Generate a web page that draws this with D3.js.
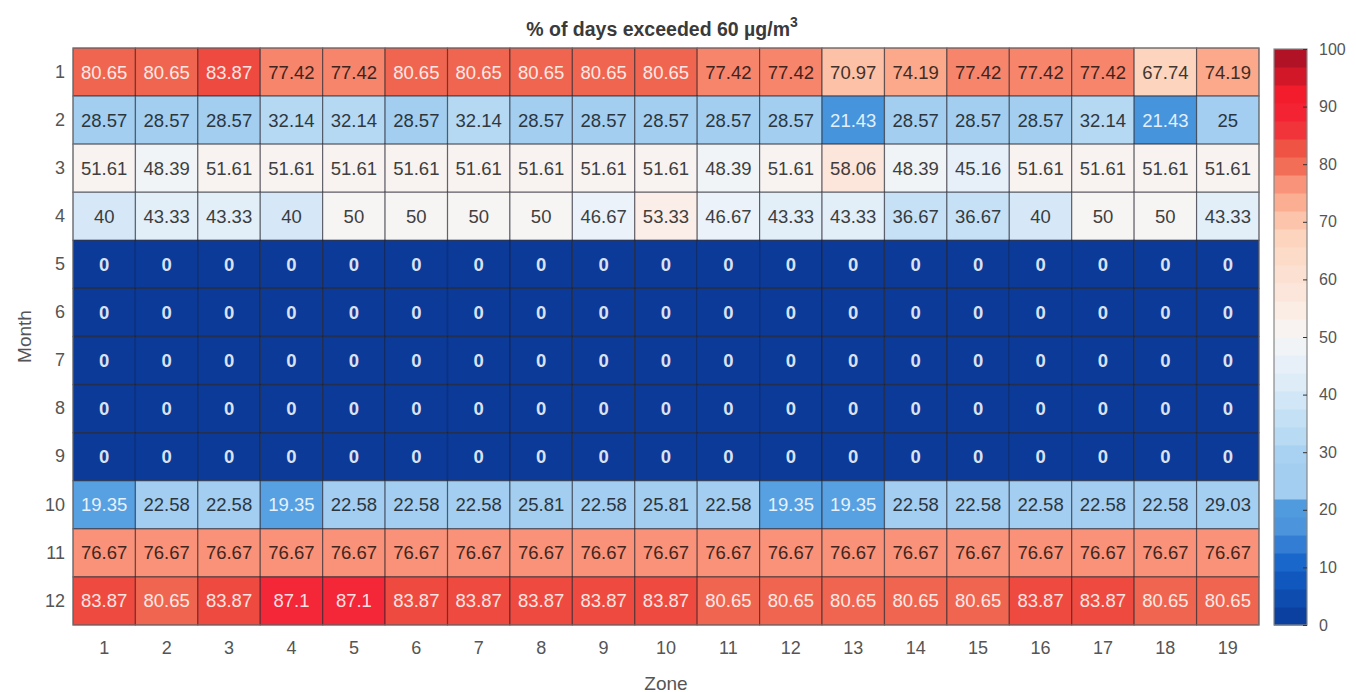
<!DOCTYPE html>
<html><head><meta charset="utf-8">
<script src="https://cdn.jsdelivr.net/npm/d3@7/dist/d3.min.js"></script>
<style>
html,body{margin:0;padding:0;background:#fff;}
svg{display:block;font-family:"Liberation Sans",Arial,Helvetica,sans-serif;}
</style></head><body>
<svg id="c" width="1356" height="692"></svg>
<script>
const zones = d3.range(1, 20).map(String);
const months = d3.range(1, 13).map(String);
const jan = [80.65,80.65,83.87,77.42,77.42,80.65,80.65,80.65,80.65,80.65,77.42,77.42,70.97,74.19,77.42,77.42,77.42,67.74,74.19];
const feb = [28.57,28.57,28.57,32.14,32.14,28.57,32.14,28.57,28.57,28.57,28.57,28.57,21.43,28.57,28.57,28.57,32.14,21.43,25];
const mar = [51.61,48.39,51.61,51.61,51.61,51.61,51.61,51.61,51.61,51.61,48.39,51.61,58.06,48.39,45.16,51.61,51.61,51.61,51.61];
const apr = [40,43.33,43.33,40,50,50,50,50,46.67,53.33,46.67,43.33,43.33,36.67,36.67,40,50,50,43.33];
const may = [0,0,0,0,0,0,0,0,0,0,0,0,0,0,0,0,0,0,0];
const jun = [0,0,0,0,0,0,0,0,0,0,0,0,0,0,0,0,0,0,0];
const jul = [0,0,0,0,0,0,0,0,0,0,0,0,0,0,0,0,0,0,0];
const aug = [0,0,0,0,0,0,0,0,0,0,0,0,0,0,0,0,0,0,0];
const sep = [0,0,0,0,0,0,0,0,0,0,0,0,0,0,0,0,0,0,0];
const oct = [19.35,22.58,22.58,19.35,22.58,22.58,22.58,25.81,22.58,25.81,22.58,19.35,19.35,22.58,22.58,22.58,22.58,22.58,29.03];
const nov = [76.67,76.67,76.67,76.67,76.67,76.67,76.67,76.67,76.67,76.67,76.67,76.67,76.67,76.67,76.67,76.67,76.67,76.67,76.67];
const dec = [83.87,80.65,83.87,87.1,87.1,83.87,83.87,83.87,83.87,83.87,80.65,80.65,80.65,80.65,80.65,83.87,83.87,80.65,80.65];
const colorbarTicks = [0,10,20,30,40,50,60,70,80,90,100];
const titleText = "% of days exceeded 60 µg/m";

const rows = [jan,feb,mar,apr,may,jun,jul,aug,sep,oct,nov,dec];
const cells = [];
rows.forEach((r, i) => r.forEach((v, j) => cells.push({month: months[i], zone: zones[j], v})));

const stops = [0,10,19,21.5,22.5,28.6,32.1,36.7,40,43.3,46.7,50,51.6,53.3,58,67.7,71,74.2,76.7,77.4,80.6,83.9,87.1,92,100];
const cols  = ["#0b3a99","#1260c8","#5aa2e2","#4594db","#a3cef1","#a3cef0","#b6d9f3","#c6e1f5","#d6e8f7","#e2eef8","#ebf2f9","#f7f5f4","#f8f3f1","#fbeee8","#fce6dc","#fdd4bd","#fcc1a6","#fba88b","#f99278","#f7856c","#f0654f","#ee4a3f","#f32737","#f51c2c","#a10f24"];
const color = d3.scaleLinear().domain(stops).range(cols).interpolate(d3.interpolateRgb).clamp(true);

const svg = d3.select("#c");
const L = 73, R = 1259, T = 48, B = 625;
const x = d3.scaleBand().domain(zones).range([L, R]);
const y = d3.scaleBand().domain(months).range([T, B]);

svg.append("g").selectAll("rect").data(cells).join("rect")
  .attr("x", d => x(d.zone)).attr("y", d => y(d.month))
  .attr("width", x.bandwidth()).attr("height", y.bandwidth())
  .attr("fill", d => color(d.v))
  .attr("stroke", "rgba(30,30,40,0.55)").attr("stroke-width", 1.2);

const fmt = v => String(v);
svg.append("g").selectAll("text").data(cells).join("text")
  .attr("x", d => x(d.zone) + x.bandwidth() / 2)
  .attr("y", d => y(d.month) + y.bandwidth() / 2)
  .attr("text-anchor", "middle").attr("dominant-baseline", "central")
  .attr("font-size", 18.5)
  .attr("font-weight", d => d.v === 0 ? "bold" : "normal")
  .attr("fill", d => {
    const c = color(d.v);
    if (d.v < 22 || d.v > 79) return d3.interpolateRgb(c, "#ffffff")(0.85);
    return d3.interpolateRgb(c, "#000000")(0.74);
  })
  .text(d => fmt(d.v));

svg.append("rect").attr("x", L).attr("y", T).attr("width", R - L).attr("height", B - T)
  .attr("fill", "none").attr("stroke", "#777").attr("stroke-width", 1);

// axes
const xAxis = d3.axisBottom(x).tickSize(0).tickPadding(16);
const gx = svg.append("g").attr("transform", `translate(0,${B})`).call(xAxis);
gx.select(".domain").remove();
gx.selectAll("text").attr("font-size", 18).attr("fill", "#555").attr("font-family", "Liberation Sans, Arial, sans-serif");

const yAxis = d3.axisLeft(y).tickSize(0).tickPadding(8);
const gy = svg.append("g").attr("transform", `translate(${L},0)`).call(yAxis);
gy.select(".domain").remove();
gy.selectAll("text").attr("font-size", 18).attr("fill", "#555").attr("font-family", "Liberation Sans, Arial, sans-serif");

svg.append("text").attr("x", (L + R) / 2).attr("y", 683).attr("text-anchor", "middle")
  .attr("dominant-baseline", "central")
  .attr("font-size", 19).attr("fill", "#555").text("Zone");
svg.append("text").attr("transform", `translate(31,${(T + B) / 2}) rotate(-90)`).attr("text-anchor", "middle")
  .attr("font-size", 19).attr("fill", "#555").text("Month");

const title = svg.append("text").attr("x", (L + R) / 2 - 4).attr("y", 36).attr("text-anchor", "middle")
  .attr("font-size", 19.5).attr("font-weight", "bold").attr("fill", "#3a3a3a");
title.append("tspan").text(titleText);
title.append("tspan").attr("font-size", 14).attr("dy", -9).text("3");

// colorbar
const cbL = 1274, cbW = 33;
const cy = d3.scaleLinear().domain([0, 100]).range([B, T + 1]);
const nB = 32;
const bands = d3.range(nB).map(i => ({lo: i * 100 / nB, hi: (i + 1) * 100 / nB}));
svg.append("g").selectAll("rect").data(bands).join("rect")
  .attr("x", cbL).attr("y", d => cy(d.hi)).attr("width", cbW)
  .attr("height", d => cy(d.lo) - cy(d.hi) + 0.5)
  .attr("fill", d => color((d.lo + d.hi) / 2));
svg.append("rect").attr("x", cbL).attr("y", cy(100)).attr("width", cbW).attr("height", cy(0) - cy(100))
  .attr("fill", "none").attr("stroke", "#888").attr("stroke-width", 1.2);
const cAxis = d3.axisRight(cy).tickValues(colorbarTicks).tickSize(-4).tickPadding(12);
const gc = svg.append("g").attr("transform", `translate(${cbL + cbW},0)`).call(cAxis);
gc.select(".domain").remove();
gc.selectAll("line").attr("stroke", "#333");
gc.selectAll("text").attr("font-size", 16).attr("fill", "#555").attr("font-family", "Liberation Sans, Arial, sans-serif");
</script>
</body></html>
